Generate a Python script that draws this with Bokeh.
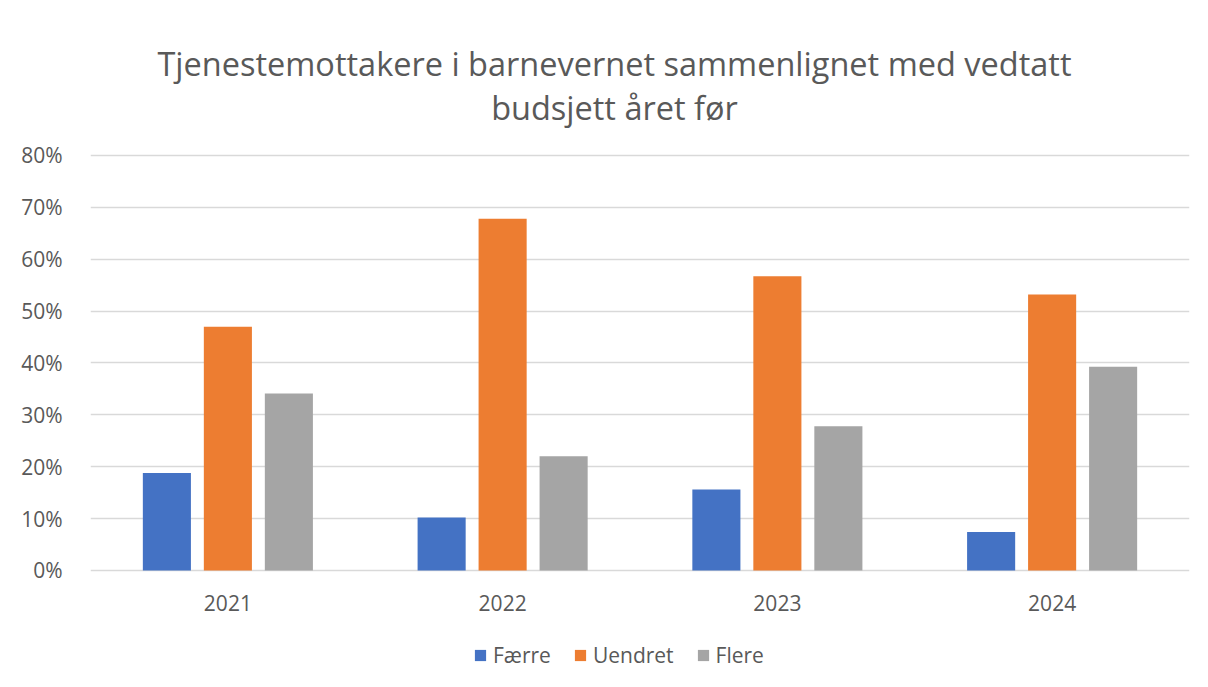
from bokeh.plotting import figure
from bokeh.models import ColumnDataSource, FactorRange, Legend, LegendItem, NumeralTickFormatter, FixedTicker, Range1d
from bokeh.core.properties import value
from bokeh.transform import dodge
from bokeh.embed import file_html
from bokeh.resources import INLINE

years = ["2021", "2022", "2023", "2024"]
faerre = [0.188, 0.102, 0.156, 0.074]
uendret = [0.470, 0.678, 0.567, 0.532]
flere = [0.341, 0.220, 0.278, 0.393]
series_names = ["Færre", "Uendret", "Flere"]
colors = ["#4472C4", "#ED7D31", "#A5A5A5"]
yticks = [0, 0.1, 0.2, 0.3, 0.4, 0.5, 0.6, 0.7, 0.8]
title_lines = ["Tjenestemottakere i barnevernet sammenlignet med vedtatt", "budsjett året før"]

src = ColumnDataSource(dict(year=years, faerre=faerre, uendret=uendret, flere=flere))

FONT = "Open Sans"
TXT = "#595959"

p = figure(width=1200, height=679, x_range=FactorRange(*years), y_range=Range1d(-0.2005, 1.0988),
           output_backend="svg", toolbar_location=None,
           min_border_left=90, min_border_right=11, min_border_top=0, min_border_bottom=5)
p.title.visible = False

# two-line centred title, drawn as text above the plotted area
title_src = ColumnDataSource(dict(text=title_lines, ty=[0.9774, 0.8925]))
p.text(x=1.907, y="ty", text="text", source=title_src, text_align="center", text_baseline="alphabetic",
       text_font=value(FONT), text_font_size="32.5px", text_color=TXT)

renderers = []
offsets = [-0.222, 0.0, 0.222]
for field, off, col in zip(["faerre", "uendret", "flere"], offsets, colors):
    r = p.vbar(x=dodge("year", off, range=p.x_range), top=field, width=0.175, source=src,
               fill_color=col, line_color=None)
    renderers.append(r)

# category labels under the baseline
p.text(x="year", y=-0.0636, text="year", source=src, text_align="center", text_baseline="middle",
       text_font=value(FONT), text_font_size="21px", text_color=TXT)

p.outline_line_color = None
p.xgrid.grid_line_color = None
p.ygrid.grid_line_color = "#d9d9d9"
p.ygrid.grid_line_width = 1.3
p.xaxis.visible = False

p.yaxis.ticker = FixedTicker(ticks=yticks)
p.yaxis.formatter = NumeralTickFormatter(format="0%")
p.yaxis.axis_line_color = None
p.yaxis.major_tick_line_color = None
p.yaxis.minor_tick_line_color = None
p.yaxis.major_label_standoff = 22
p.yaxis.major_label_text_font = FONT
p.yaxis.major_label_text_font_size = "21px"
p.yaxis.major_label_text_color = TXT

legend = Legend(items=[LegendItem(label=n, renderers=[r]) for n, r in zip(series_names, renderers)],
                orientation="horizontal", location=(383, 5),
                label_text_font=FONT, label_text_font_size="21px", label_text_color=TXT,
                glyph_width=14, glyph_height=14, spacing=22, label_standoff=6,
                border_line_color=None, background_fill_alpha=0, margin=0, padding=2)
p.add_layout(legend, "center")

open("out.html", "w").write(file_html(p, INLINE))
